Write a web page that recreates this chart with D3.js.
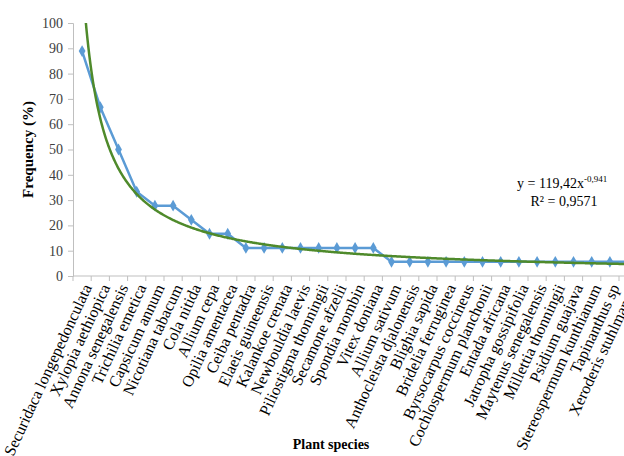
<!DOCTYPE html>
<html>
<head>
<meta charset="utf-8">
<script src="https://cdn.jsdelivr.net/npm/d3@7"></script>
<style>
	body { margin: 0; background: white; }
	svg { display: block; font-family: 'Liberation Serif', 'Times New Roman', serif; }
	.axis path, .axis line { stroke: #bfbfbf; }
	.axis text { fill: #404040; font-size: 14px; font-family: 'Liberation Serif', serif; }
</style>
</head>
<body>
<svg id="chart" width="624" height="456"></svg>
<script>
const species = [
	'Securidaca longepedonculata', 'Xylopia aethiopica', 'Annona senegalensis', 'Trichilia emetica',
	'Capsicum annum', 'Nicotiana tabacum', 'Cola nitida', 'Allium cepa', 'Opilia amentacea',
	'Ceiba pentadra', 'Elaeis guineensis', 'Kalankoe crenata', 'Newbouldia laevis',
	'Piliostigma thonningii', 'Secamone afzelii', 'Spondia mombin', 'Vitex doniana',
	'Allium sativum', 'Anthocleista djalonensis', 'Blighia sapida', 'Bridelia ferruginea',
	'Byrsocarpus coccineus', 'Cochlospermum planchonii', 'Entada africana', 'Jatropha gossipifolia',
	'Maytenus senegalensis', 'Millettia thonningii', 'Psidium guajava', 'Stereospermum kunthianum',
	'Tapinanthus sp', 'Xeroderis stuhlmannii'
];
const frequency = [
	88.9, 66.7, 50.0, 33.3, 27.8, 27.8, 22.2, 16.7, 16.7,
	11.1, 11.1, 11.1, 11.1, 11.1, 11.1, 11.1, 11.1,
	5.6, 5.6, 5.6, 5.6, 5.6, 5.6, 5.6, 5.6, 5.6, 5.6, 5.6, 5.6, 5.6, 5.6
];
const yTicks = [0, 10, 20, 30, 40, 50, 60, 70, 80, 90, 100];
// power trendline shown on the chart: y = 119,42x^-0,941
const trendA = 119.42;
const trendB = -0.941;
const trendLabel = ['y = 119,42x', '-0,941'];
const r2Label = 'R² = 0,9571';

const svg = d3.select('#chart');
const plotLeft = 73;
const plotTop = 23;
const plotBottom = 276;
const plotRight = plotLeft + species.length * 18.2;

const x = d3.scaleBand().domain(species).range([plotLeft, plotRight]);
const y = d3.scaleLinear().domain([0, 100]).range([plotBottom, plotTop]);
const xPos = (i) => x(species[i]) + x.bandwidth() / 2;
// continuous x for trendline, 1 = first category
const xCont = d3.scaleLinear().domain([1, species.length]).range([xPos(0), xPos(species.length - 1)]);

svg.append('defs').append('clipPath')
	.attr('id', 'plotClip')
	.append('rect')
	.attr('x', plotLeft)
	.attr('y', plotTop)
	.attr('width', plotRight - plotLeft)
	.attr('height', plotBottom - plotTop);

// y axis
svg.append('g')
	.attr('class', 'axis')
	.attr('transform', `translate(${plotLeft},0)`)
	.call(d3.axisLeft(y).tickValues(yTicks).tickSize(5).tickPadding(5));

// x axis, ticks between categories
const xAxis = svg.append('g')
	.attr('class', 'axis')
	.attr('transform', `translate(0,${plotBottom})`);
xAxis.append('line')
	.attr('x1', plotLeft).attr('x2', plotRight)
	.attr('y1', 0).attr('y2', 0);
xAxis.selectAll('.tick')
	.data(d3.range(species.length + 1))
	.enter().append('line')
	.attr('x1', (d) => plotLeft + d * x.bandwidth())
	.attr('x2', (d) => plotLeft + d * x.bandwidth())
	.attr('y1', 0).attr('y2', 5);
xAxis.selectAll('text')
	.data(species)
	.enter().append('text')
	.attr('transform', (d) => `translate(${x(d) + x.bandwidth() / 2 + 5},${9}) rotate(-65)`)
	.attr('text-anchor', 'end')
	.attr('dy', '0.35em')
	.style('fill', '#000')
	.style('font-size', '16px')
	.text((d) => d);

// trendline
const trendPoints = d3.range(1, species.length + 0.001, 0.05).map((v) => [v, trendA * Math.pow(v, trendB)]);
const trendLine = d3.line()
	.x((d) => xCont(d[0]))
	.y((d) => y(d[1]));

// data line
const dataLine = d3.line()
	.x((d, i) => xPos(i))
	.y((d) => y(d));
const plot = svg.append('g').attr('clip-path', 'url(#plotClip)');
plot.append('path')
	.datum(frequency)
	.attr('d', dataLine)
	.attr('fill', 'none')
	.attr('stroke', '#5b9bd5')
	.attr('stroke-width', 2.5);
plot.selectAll('.marker')
	.data(frequency)
	.enter().append('path')
	.attr('class', 'marker')
	.attr('d', d3.symbol().type(d3.symbolDiamond).size(40))
	.attr('transform', (d, i) => `translate(${xPos(i)},${y(d)})`)
	.attr('fill', '#5b9bd5');
plot.append('path')
	.datum(trendPoints)
	.attr('d', trendLine)
	.attr('fill', 'none')
	.attr('stroke', '#4f8a2b')
	.attr('stroke-width', 2.5);

// equation
const eq = svg.append('text')
	.attr('x', 517)
	.attr('y', 188)
	.style('font-size', '14px')
	.style('fill', '#000');
eq.append('tspan').text(trendLabel[0]);
eq.append('tspan').attr('dy', -6).style('font-size', '9px').text(trendLabel[1]);
svg.append('text')
	.attr('x', 564)
	.attr('y', 206)
	.attr('text-anchor', 'middle')
	.style('font-size', '14px')
	.text(r2Label);

// axis titles
svg.append('text')
	.attr('transform', `translate(33,${(plotTop + plotBottom) / 2}) rotate(-90)`)
	.attr('text-anchor', 'middle')
	.style('font-size', '15px')
	.style('font-weight', 'bold')
	.text('Frequency (%)');
svg.append('text')
	.attr('x', 331)
	.attr('y', 449)
	.attr('text-anchor', 'middle')
	.style('font-size', '14px')
	.style('font-weight', 'bold')
	.text('Plant species');
</script>
</body>
</html>
